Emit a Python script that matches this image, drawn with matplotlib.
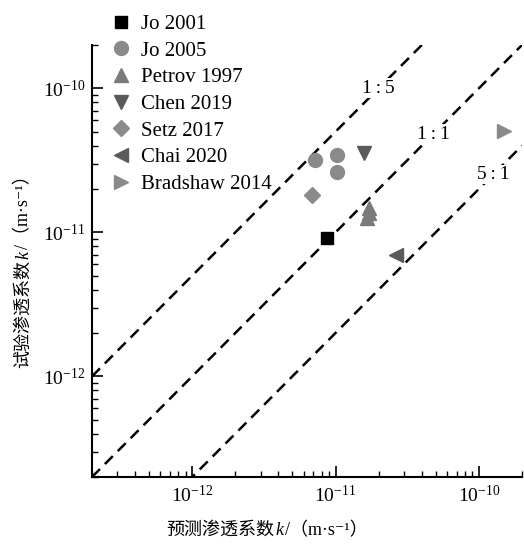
import matplotlib
matplotlib.use("Agg")
import matplotlib.pyplot as plt
import numpy as np

plt.rcParams["font.family"] = ["Liberation Serif", "Noto Sans CJK SC"]
plt.rcParams["mathtext.fontset"] = "stix"

# (predicted k, measured k) per source, in m/s
series = ["Jo 2001", "Jo 2005", "Petrov 1997", "Chen 2019", "Setz 2017", "Chai 2020", "Bradshaw 2014"]
pred = [
    [8.7e-12],
    [7.15e-12, 1.03e-11, 1.03e-11],
    [1.72e-11, 1.70e-11, 1.66e-11],
    [1.57e-11],
    [6.9e-12],
    [2.64e-11],
    [1.49e-10],
]
meas = [
    [9.2e-12],
    [3.16e-11, 3.45e-11, 2.64e-11],
    [1.48e-11, 1.36e-11, 1.25e-11],
    [3.55e-11],
    [1.82e-11],
    [7.0e-12],
    [5.06e-11],
]
markers = ["s", "o", "^", "v", "D", "<", ">"]
colors = ["#000000", "#8a8a8a", "#7a7a7a", "#5a5a5a", "#8a8a8a", "#5a5a5a", "#8a8a8a"]
sizes = [8, 10, 10, 10, 8.5, 10, 10]

ratios = [5.0, 1.0, 0.2]
ratio_labels = ["1\u2009:\u20095", "1\u2009:\u20091", "5\u2009:\u20091"]
label_x = [2.0e-11, 4.8e-11, 1.26e-10]

major_ticks = [1e-12, 1e-11, 1e-10]
lo, hi = 2e-13, 2e-10

W, H = 524, 546
fig = plt.figure(figsize=(W / 100, H / 100), dpi=100)
ax = fig.add_axes([92 / W, 1 - 477 / H, 430 / W, 432 / H])

xs = np.array([lo, hi])
for r, lab, lx in zip(ratios, ratio_labels, label_x):
    ax.plot(xs, r * xs, color="black", lw=1.8, ls=(0, (4.5, 2.8)), zorder=1)
    ax.text(lx, r * lx, lab, ha="center", va="center", fontsize=14,
            bbox=dict(facecolor="white", edgecolor="none", pad=1.0), zorder=2)

for name, px, py, m, c, s in zip(series, pred, meas, markers, colors, sizes):
    ax.plot(px, py, ls="none", marker=m, color=c, markersize=s, label=name, zorder=3)

ax.set_xscale("log")
ax.set_yscale("log")
ax.set_xticks(major_ticks)
ax.set_yticks(major_ticks)
ax.set_xlim(lo, hi)
ax.set_ylim(lo, hi)

for side in ["top", "right"]:
    ax.spines[side].set_visible(False)
for side in ["left", "bottom"]:
    ax.spines[side].set_linewidth(1.5)

ax.tick_params(which="major", direction="in", length=8, width=1.2, labelsize=14)
ax.tick_params(which="minor", direction="in", length=4, width=1.0)
ax.tick_params(axis="x", pad=6)
ax.tick_params(axis="y", pad=5)

ax.legend(loc="upper left", bbox_to_anchor=(102 / W, 1 - 6 / H), bbox_transform=fig.transFigure,
          frameon=False, fontsize=15, handletextpad=0.45, labelspacing=0.34,
          borderaxespad=0, handlelength=1.0)

# axis titles built from pieces so the Chinese, the italic k and the unit each get a font
renderer = fig.canvas.get_renderer()
lab_size = 13
em = lab_size * 100 / 72
mixed = ["Liberation Serif", "Noto Sans CJK SC", "DejaVu Serif"]


def piece_label(x0, y0, pieces, rotation):
    pos = 0.0
    for txt, style, adv in pieces:
        kw = dict(fontsize=lab_size, rotation=rotation, rotation_mode="anchor",
                  ha="left", va="baseline")
        if style == "cjk":
            kw["family"] = "Noto Sans CJK SC"
        elif style == "it":
            kw["family"] = "Liberation Serif"
            kw["style"] = "italic"
        else:
            kw["family"] = mixed
        if rotation == 0:
            t = fig.text((x0 + pos) / W, y0 / H, txt, **kw)
        else:
            t = fig.text(x0 / W, (y0 + pos) / H, txt, **kw)
        if adv is not None:
            pos += adv
        else:
            b = t.get_window_extent(renderer)
            pos += (b.width if rotation == 0 else b.height) + 2


unit = [("k", "it", None), ("/（m·s⁻¹）", "mix", None)]
piece_label(166, H - 535, [("预测渗透系数", "cjk", 6 * em + 1)] + unit, 0)
piece_label(28, H - 368, [("试验渗透系数", "cjk", 6 * em + 1)] + unit, 90)

fig.savefig("out.png", dpi=100)
